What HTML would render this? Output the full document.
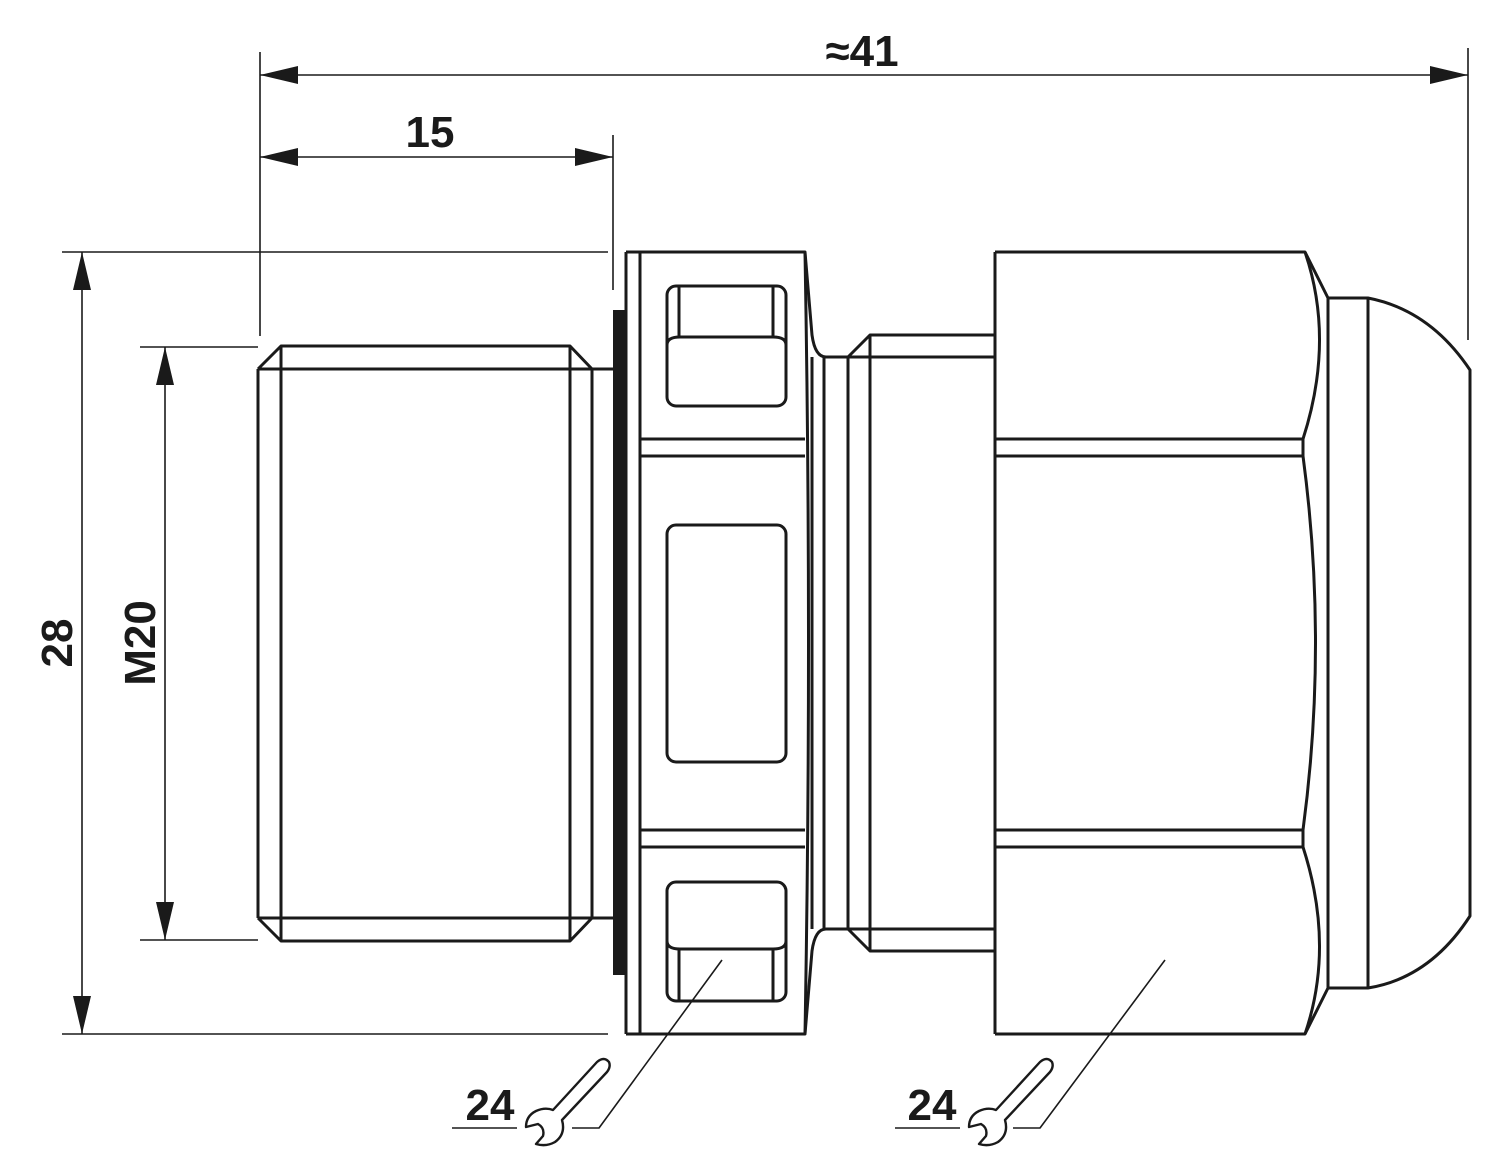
<!DOCTYPE html>
<html><head><style>html,body{margin:0;padding:0;background:#fff}svg{display:block}</style></head>
<body>
<svg width="1500" height="1172" viewBox="0 0 1500 1172" xmlns="http://www.w3.org/2000/svg">
<g fill="none" stroke="#1a1a1a" stroke-linejoin="round">
<g stroke-width="1.6">
<line x1="260" y1="52" x2="260" y2="336"/>
<line x1="1468" y1="48" x2="1468" y2="340"/>
<line x1="613" y1="135" x2="613" y2="290"/>
<line x1="62" y1="252" x2="608" y2="252"/>
<line x1="62" y1="1034" x2="608" y2="1034"/>
<line x1="140" y1="347" x2="258" y2="347"/>
<line x1="140" y1="940" x2="258" y2="940"/>
<line x1="260" y1="75" x2="1468" y2="75"/>
<line x1="260" y1="157" x2="613" y2="157"/>
<line x1="82" y1="252" x2="82" y2="1034"/>
<line x1="165" y1="347" x2="165" y2="940"/>
</g>
<g stroke-width="3">
<path d="M258,369 L281,346 L570,346 L592,369 L613,369"/>
<path d="M258,918 L281,941 L570,941 L592,918 L613,918"/>
<line x1="258" y1="369" x2="258" y2="918"/>
<line x1="258" y1="369" x2="592" y2="369"/>
<line x1="258" y1="918" x2="592" y2="918"/>
<line x1="281" y1="346" x2="281" y2="941"/>
<line x1="570" y1="346" x2="570" y2="941"/>
<line x1="592" y1="369" x2="592" y2="918"/>
<path d="M626,252 L805,252 L812,335 Q815,357 826,357 L848,357 L870,335 L995,335"/>
<path d="M626,1034 L805,1034 L812,951 Q815,929 826,929 L848,929 L870,951 L995,951"/>
<line x1="626" y1="252" x2="626" y2="1034"/>
<line x1="640" y1="252" x2="640" y2="1034"/>
<path d="M805,252 Q812,643 805,1034"/>
<line x1="812" y1="357" x2="812" y2="929"/>
<line x1="824" y1="357" x2="824" y2="929"/>
<line x1="848" y1="357" x2="848" y2="929"/>
<line x1="870" y1="335" x2="870" y2="951"/>
<line x1="848" y1="357" x2="995" y2="357"/>
<line x1="848" y1="929" x2="995" y2="929"/>
<line x1="640" y1="439" x2="805" y2="439"/>
<line x1="640" y1="456" x2="805" y2="456"/>
<line x1="640" y1="830" x2="805" y2="830"/>
<line x1="640" y1="847" x2="805" y2="847"/>
<rect x="667" y="286" width="119" height="120" rx="9"/>
<path d="M667,345 Q667,337 680,337 L773,337 Q786,337 786,345"/>
<line x1="679" y1="287" x2="679" y2="337"/>
<line x1="773" y1="287" x2="773" y2="337"/>
<rect x="667" y="525" width="119" height="237" rx="9"/>
<rect x="667" y="882" width="119" height="119" rx="9"/>
<path d="M667,941 Q667,949 680,949 L773,949 Q786,949 786,941"/>
<line x1="679" y1="949" x2="679" y2="1000"/>
<line x1="773" y1="949" x2="773" y2="1000"/>
<path d="M995,252 L1305,252 L1328,298"/>
<path d="M995,1034 L1305,1034 L1328,988"/>
<line x1="995" y1="252" x2="995" y2="1034"/>
<line x1="995" y1="439" x2="1303" y2="439"/>
<line x1="995" y1="456" x2="1303" y2="456"/>
<line x1="995" y1="830" x2="1303" y2="830"/>
<line x1="995" y1="847" x2="1303" y2="847"/>
<path d="M1305,252 Q1335,340 1303,439"/>
<path d="M1303,456 Q1328,643 1303,830"/>
<path d="M1303,847 Q1335,946 1305,1034"/>
<line x1="1303" y1="439" x2="1303" y2="456"/>
<line x1="1303" y1="830" x2="1303" y2="847"/>
<line x1="1328" y1="298" x2="1328" y2="988"/>
<line x1="1368" y1="298" x2="1368" y2="988"/>
<path d="M1328,298 L1368,298 Q1430,310 1470,370 L1470,916 Q1430,978 1368,988 L1328,988"/>
</g>
<rect x="613" y="310" width="13" height="665" fill="#1a1a1a" stroke="none"/>
<g fill="#1a1a1a" stroke="none">
<polygon points="260,75 298,66 298,84"/>
<polygon points="1468,75 1430,66 1430,84"/>
<polygon points="260,157 298,148 298,166"/>
<polygon points="613,157 575,148 575,166"/>
<polygon points="82,252 73,290 91,290"/>
<polygon points="82,1034 73,996 91,996"/>
<polygon points="165,347 156,385 174,385"/>
<polygon points="165,940 156,902 174,902"/>
</g>
<g stroke-width="1.6">
<path d="M722,960 L599,1128 L572,1128"/>
<path d="M1165,960 L1040,1128 L1013,1128"/>
<line x1="452" y1="1128" x2="517" y2="1128"/>
<line x1="895" y1="1128" x2="960" y2="1128"/>
</g>
<g stroke-width="2.4">
<path id="wr" d="M553,1110 L597,1062 Q604,1056 609,1062 Q611,1067 607,1072 L562,1120 Q566,1134 555,1142 Q546,1147 536,1144 L543,1136 Q545,1128 538,1124 L526,1127 Q526,1116 536,1111 Q545,1107 553,1110 Z"/>
<use href="#wr" transform="translate(443,0)"/>
</g>
</g>
<g font-family="Liberation Sans, sans-serif" font-weight="bold" font-size="44" fill="#1a1a1a" text-anchor="middle">
<text x="862" y="66">≈41</text>
<text x="430" y="147">15</text>
<text x="490" y="1120">24</text>
<text x="932" y="1120">24</text>
<text transform="translate(72,643) rotate(-90)">28</text>
<text transform="translate(155,643) rotate(-90)">M20</text>
</g>
</svg>
</body></html>
